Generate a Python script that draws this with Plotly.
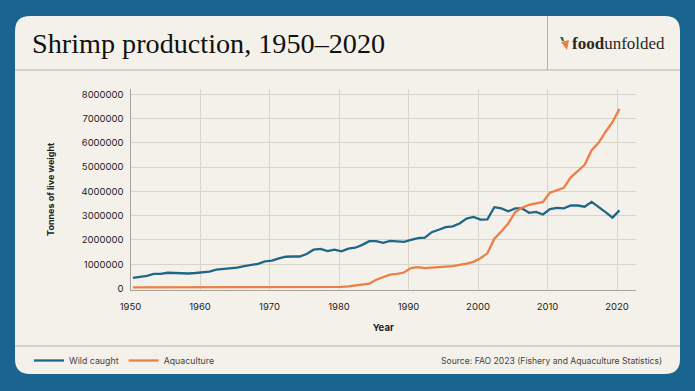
import plotly.graph_objects as go

W, H = 695, 391

years = list(range(1950, 2021))
wild_caught = [
    440000, 470000, 520000, 600000, 600000, 650000, 640000, 600000, 620000, 640000,
    660000, 700000, 780000, 800000, 810000, 860000, 920000, 970000, 1020000, 1120000,
    1150000, 1240000, 1310000, 1320000, 1320000, 1420000, 1600000, 1630000, 1540000, 1600000,
    1530000, 1640000, 1680000, 1800000, 1950000, 1950000, 1880000, 1960000, 1950000, 1920000,
    2000000, 2080000, 2100000, 2320000, 2420000, 2530000, 2560000, 2680000, 2880000, 2950000,
    2840000, 2850000, 3350000, 3300000, 3180000, 3300000, 3300000, 3120000, 3160000, 3050000,
    3270000, 3320000, 3300000, 3420000, 3420000, 3370000, 3570000, 3370000, 3150000, 2920000,
    3220000,
]
aquaculture = [
    45000, 45000, 45000, 45000, 45000, 45000, 45000, 45000, 45000, 45000,
    45000, 45000, 45000, 45000, 45000, 45000, 45000, 45000, 45000, 45000,
    45000, 45000, 45000, 45000, 45000, 50000, 50000, 55000, 60000, 60000,
    70000, 90000, 120000, 150000, 200000, 360000, 480000, 570000, 600000, 660000,
    840000, 880000, 840000, 870000, 890000, 900000, 920000, 960000, 1030000, 1100000,
    1250000, 1450000, 2050000, 2350000, 2680000, 3150000, 3330000, 3450000, 3520000, 3570000,
    3950000, 4050000, 4150000, 4580000, 4820000, 5100000, 5700000, 6000000, 6450000, 6850000,
    7400000,
]
x_tick_labels = ["1950", "1960", "1970", "1980", "1990", "2000", "2010", "2020"]
y_ticks = [0, 1000000, 2000000, 3000000, 4000000, 5000000, 6000000, 7000000, 8000000]

TITLE = "Shrimp production, 1950–2020"
SOURCE = "Source: FAO 2023 (Fishery and Aquaculture Statistics)"

BLUE_BG = "#1a6490"
CARD = "#f4f1ea"
RULE = "#b3b0a8"
GRID = "#d8d4ca"
AXIS = "#a6a39b"
INK = "#1d1d1b"
BLUE = "#1f6788"
ORANGE = "#ec7f47"

# the reference's ticks sit slightly left of the data years
TICK_SHIFT = -0.35


def px(x):
    return x / W


def py(y):
    return 1 - y / H


def card_path(x0, y0, x1, y1, r):
    p = [(x0 + r, y0), (x1 - r, y0), (x1, y0 + r), (x1, y1 - r), (x1 - r, y1), (x0 + r, y1), (x0, y1 - r), (x0, y0 + r)]
    q = [(px(a), py(b)) for a, b in p]
    c = [(x1, y0), (x1, y1), (x0, y1), (x0, y0)]
    c = [(px(a), py(b)) for a, b in c]
    return (
        f"M{q[0][0]},{q[0][1]} L{q[1][0]},{q[1][1]} Q{c[0][0]},{c[0][1]} {q[2][0]},{q[2][1]} "
        f"L{q[3][0]},{q[3][1]} Q{c[1][0]},{c[1][1]} {q[4][0]},{q[4][1]} "
        f"L{q[5][0]},{q[5][1]} Q{c[2][0]},{c[2][1]} {q[6][0]},{q[6][1]} "
        f"L{q[7][0]},{q[7][1]} Q{c[3][0]},{c[3][1]} {q[0][0]},{q[0][1]} Z"
    )


def rule(x0, y0, x1, y1):
    return dict(type="line", xref="paper", yref="paper", x0=px(x0), y0=py(y0), x1=px(x1), y1=py(y1),
                line=dict(color=RULE, width=1), layer="below")


def poly(points, color):
    d = "M" + " L".join(f"{px(a)},{py(b)}" for a, b in points) + " Z"
    return dict(type="path", xref="paper", yref="paper", path=d, fillcolor=color, line=dict(width=0), layer="above")


fig = go.Figure()
fig.add_trace(go.Scatter(x=years, y=wild_caught, mode="lines", name="Wild caught",
                         line=dict(color=BLUE, width=2.3)))
fig.add_trace(go.Scatter(x=years, y=aquaculture, mode="lines", name="Aquaculture",
                         line=dict(color=ORANGE, width=2.3)))

shapes = [
    dict(type="path", xref="paper", yref="paper", path=card_path(15, 16, 680, 374, 15),
         fillcolor=CARD, line=dict(width=0), layer="below"),
    rule(15, 70, 680, 70),
    rule(15, 346, 680, 346),
    rule(547.5, 16, 547.5, 70),
    poly([(561, 42), (569, 40), (567, 50)], ORANGE),
    poly([(560, 37), (563, 37), (564, 41), (562, 41)], "#2f6b4a"),
]

annotations = [
    dict(text=TITLE, xref="paper", yref="paper", x=px(30), y=py(44), xanchor="left", yanchor="middle",
         showarrow=False, font=dict(family="Liberation Serif", size=28.2, color="#111111")),
    dict(text="<b>food</b>unfolded", xref="paper", yref="paper", x=px(570), y=py(44), xanchor="left",
         yanchor="middle", showarrow=False, font=dict(family="Liberation Serif", size=17, color="#2a2825")),
    dict(text=SOURCE, xref="paper", yref="paper", x=px(664), y=py(360.5), xanchor="right", yanchor="middle",
         showarrow=False, font=dict(family="Inter", size=8.6, color="#45433f")),
]

fig.update_layout(
    width=W, height=H,
    margin=dict(l=0, r=0, t=0, b=0, autoexpand=False),
    paper_bgcolor=BLUE_BG,
    plot_bgcolor="rgba(0,0,0,0)",
    shapes=shapes,
    annotations=annotations,
    showlegend=True,
    legend=dict(orientation="h", x=px(29), y=py(360.5), xanchor="left", yanchor="middle",
                bgcolor="rgba(0,0,0,0)", font=dict(family="Inter", size=8.8, color="#45433f")),
    xaxis=dict(
        domain=[px(130.5), px(636)],
        range=[1950 + TICK_SHIFT, 1950 + TICK_SHIFT + (636 - 130.5) / 6.95],
        tickmode="array",
        tickvals=[int(t) + TICK_SHIFT for t in x_tick_labels],
        ticktext=x_tick_labels,
        showgrid=True, gridcolor=GRID, gridwidth=1, zeroline=False,
        showline=True, linecolor=AXIS, linewidth=1,
        ticks="outside", ticklen=8, tickcolor="rgba(0,0,0,0)",
        tickfont=dict(family="Inter", size=9.5, color=INK),
        title=dict(text="<b>Year</b>", standoff=13, font=dict(family="Inter", size=9.5, color=INK)),
    ),
    yaxis=dict(
        domain=[py(289.5), py(89)],
        range=[-40000, 8220000],
        tickmode="array",
        tickvals=y_ticks,
        ticktext=[str(v) for v in y_ticks],
        showgrid=True, gridcolor=GRID, gridwidth=1, zeroline=False,
        showline=True, linecolor=AXIS, linewidth=1,
        ticks="outside", ticklen=4, tickcolor="rgba(0,0,0,0)",
        tickfont=dict(family="Inter", size=9.5, color=INK),
        title=dict(text="<b>Tonnes of live weight</b>", standoff=25, font=dict(family="Inter", size=9, color=INK)),
    ),
)

fig.write_html("out.html", config=dict(displayModeBar=False),
               post_script="document.body.style.margin='0';document.documentElement.style.overflow='hidden';")
